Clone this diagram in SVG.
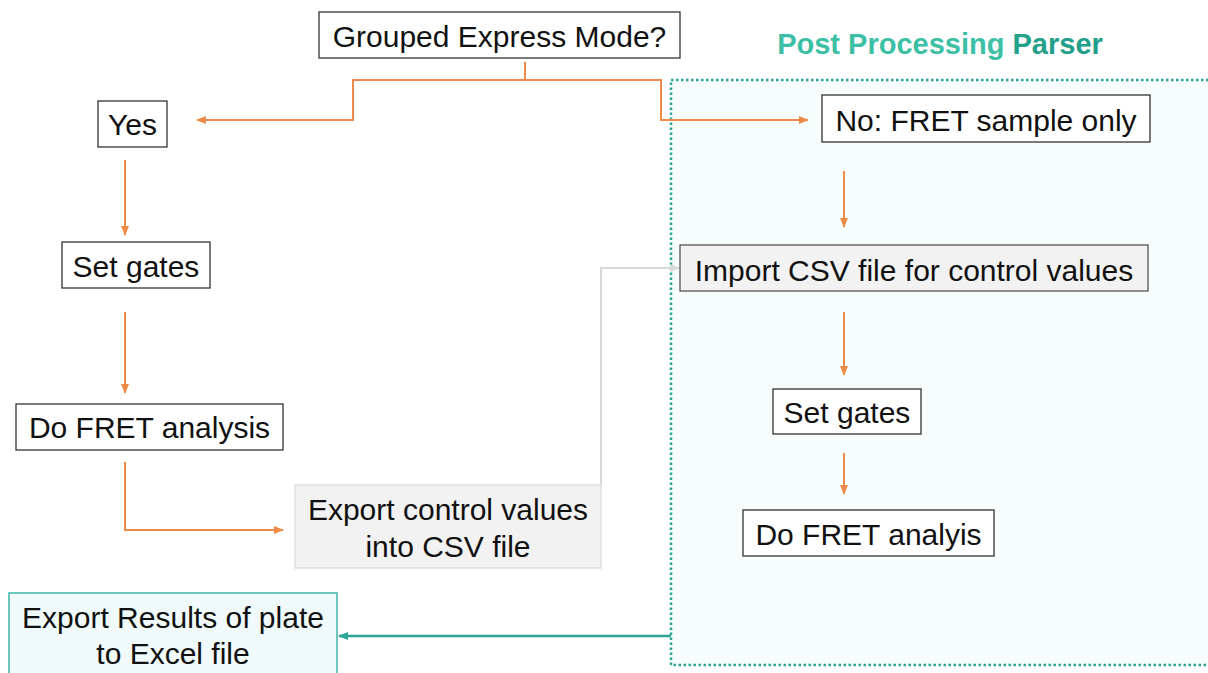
<svg xmlns="http://www.w3.org/2000/svg" width="1208" height="673" viewBox="0 0 1208 673">
<defs>
<style>
.box{fill:#ffffff;stroke:#333333;stroke-width:1.3}
.grey{fill:#f2f2f2;stroke:#555555;stroke-width:1.3}
.greylt{fill:#f2f2f2;stroke:#dcdcdc;stroke-width:1.3}
.tealbox{fill:#f0fafa;stroke:#3fb5a8;stroke-width:1.5}
.t{font-size:30px;fill:#111111;text-anchor:middle}
.or{fill:none;stroke:#ed8b48;stroke-width:2}
.gr{fill:none;stroke:#d9d9d9;stroke-width:2}
.te{fill:none;stroke:#2aa596;stroke-width:2.5}
</style>
<marker id="ao" viewBox="0 0 10 10" refX="9" refY="5" markerWidth="5" markerHeight="5" orient="auto" markerUnits="strokeWidth"><path d="M0,1 L10,5 L0,9 z" fill="#ed8b48"/></marker>
<marker id="ag" viewBox="0 0 10 10" refX="9" refY="5" markerWidth="5" markerHeight="5" orient="auto" markerUnits="strokeWidth"><path d="M0,1 L10,5 L0,9 z" fill="#d9d9d9"/></marker>
<marker id="at" viewBox="0 0 10 10" refX="9" refY="5" markerWidth="4" markerHeight="4" orient="auto" markerUnits="strokeWidth"><path d="M0,1 L10,5 L0,9 z" fill="#2aa596"/></marker>
</defs>
<rect width="1208" height="673" fill="#ffffff"/>
<g font-family="Liberation Sans, Arial, sans-serif">
<g id="region">
<rect x="671" y="80" width="560" height="585" fill="#f7fcfc" stroke="#2aa596" stroke-width="2.5" stroke-dasharray="2.5 2.5"/>
<text x="940" y="54" font-size="29" font-weight="bold" text-anchor="middle"><tspan fill="#3dbfa6">Post Processing </tspan><tspan fill="#22a08a">Parser</tspan></text>
</g>
<g id="connectors">
<path class="or" d="M525,62 V80 H353 V120 H197" marker-end="url(#ao)"/>
<path class="or" d="M525,80 H661 V120 H808" marker-end="url(#ao)"/>
<path class="or" d="M125,160 V235" marker-end="url(#ao)"/>
<path class="or" d="M125,312 V393" marker-end="url(#ao)"/>
<path class="or" d="M125,462 V530 H283" marker-end="url(#ao)"/>
<path class="gr" d="M601,485 V268 H679" marker-end="url(#ag)"/>
<path class="or" d="M844,171 V227" marker-end="url(#ao)"/>
<path class="or" d="M844,312 V375" marker-end="url(#ao)"/>
<path class="or" d="M844,453 V494" marker-end="url(#ao)"/>
<path class="te" d="M671,636 H339" marker-end="url(#at)"/>
</g>
<g id="n-grouped"><rect class="box" x="319" y="12" width="361" height="46"/><text class="t" x="499.5" y="47">Grouped Express Mode?</text></g>
<g id="n-yes"><rect class="box" x="98" y="101" width="69" height="46"/><text class="t" x="132.5" y="135">Yes</text></g>
<g id="n-setgates1"><rect class="box" x="62" y="242" width="148" height="46"/><text class="t" x="136" y="277">Set gates</text></g>
<g id="n-fret1"><rect class="box" x="16" y="404" width="267" height="46"/><text class="t" x="149.5" y="438">Do FRET analysis</text></g>
<g id="n-export"><rect class="greylt" x="295" y="485" width="306" height="83"/><text class="t" x="448" y="520">Export control values</text><text class="t" x="448" y="557">into CSV file</text></g>
<g id="n-no"><rect class="box" x="822" y="95" width="328" height="47"/><text class="t" x="986" y="131">No: FRET sample only</text></g>
<g id="n-import"><rect class="grey" x="680" y="245" width="468" height="46"/><text class="t" x="914" y="281">Import CSV file for control values</text></g>
<g id="n-setgates2"><rect class="box" x="773" y="389" width="148" height="45"/><text class="t" x="847" y="423">Set gates</text></g>
<g id="n-fret2"><rect class="box" x="743" y="510" width="251" height="46"/><text class="t" x="868.5" y="545">Do FRET analyis</text></g>
<g id="n-results"><rect class="tealbox" x="9" y="593" width="328" height="90"/><text class="t" x="173" y="628">Export Results of plate</text><text class="t" x="173" y="664">to Excel file</text></g>
</g>
</svg>
